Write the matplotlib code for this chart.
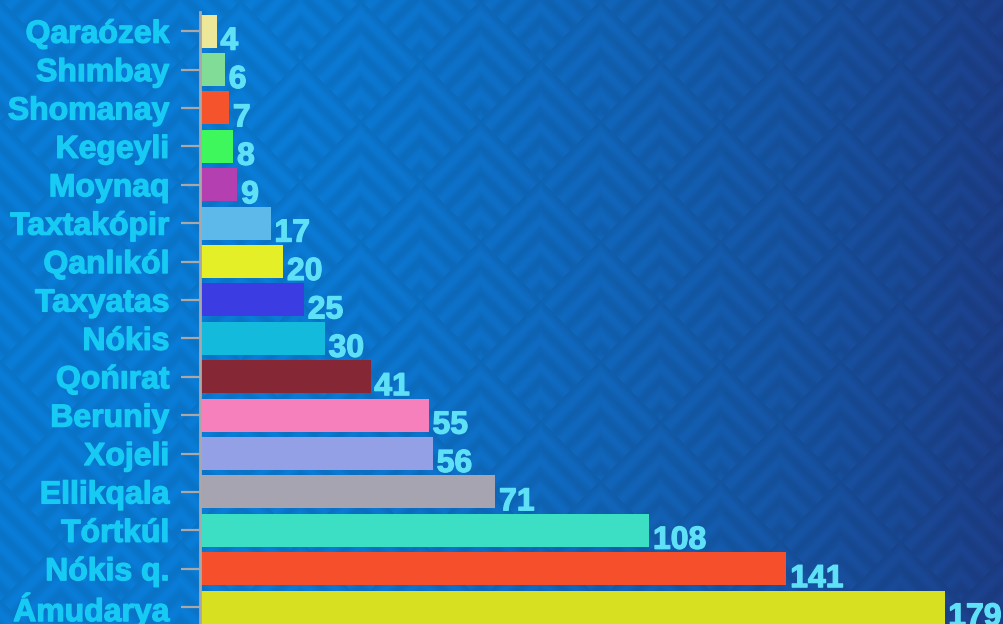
import numpy as np
import matplotlib.pyplot as plt
import matplotlib.patheffects as pe
from matplotlib.colors import to_rgb

districts = ['Qaraózek', 'Shımbay', 'Shomanay', 'Kegeyli', 'Moynaq', 'Taxtakópir',
             'Qanlıkól', 'Taxyatas', 'Nókis', 'Qońırat', 'Beruniy', 'Xojeli',
             'Ellikqala', 'Tórtkúl', 'Nókis q.', 'Ámudarya']
counts = [4, 6, 7, 8, 9, 17, 20, 25, 30, 41, 55, 56, 71, 108, 141, 179]
colors = ['#ece799', '#80dc96', '#f5532b', '#3ef75c', '#b43fb0', '#5cb9e9',
          '#e5ef27', '#3b3ce2', '#14badc', '#862735', '#f580bc', '#93a0e6',
          '#a5a4b0', '#3ddfc4', '#f5502b', '#d8e022']

W, H = 1004, 624
fig = plt.figure(figsize=(W / 100, H / 100), dpi=100)

# background: blue gradient with faint nested chevrons
yy, xx = np.mgrid[0:H, 0:W].astype(float)
t = np.clip((xx / W - 0.25) / 0.75, 0, 1) ** 1.3
c0 = np.array(to_rgb('#0a7dd8'))
c1 = np.array(to_rgb('#1d3f8a'))
bg = c0 * (1 - t[..., None]) + c1 * t[..., None]
a = ((xx + yy) / 120.0) % 1.0
b = ((yy - xx) / 120.0) % 1.0
m = np.minimum(a, b)
stripe = 0.5 + 0.5 * np.cos(2 * np.pi * 4.5 * m)
bg = bg * (1 - 0.08 * stripe[..., None])
bg_ax = fig.add_axes([0, 0, 1, 1], zorder=-1)
bg_ax.imshow(bg, aspect='auto', interpolation='bilinear')
bg_ax.axis('off')

label_col = '#16caf4'
value_col = '#5ee0f7'

ax = fig.add_axes([200 / W, 0, (W - 200) / W, (H - 12) / H])
ax.set_facecolor('none')
y = np.arange(len(districts))
ax.barh(y, counts, height=0.86, color=colors, zorder=2)

for yi, v in zip(y, counts):
    ax.text(v + 0.9, yi + 0.48, str(v), va='baseline', ha='left',
            fontsize=23, fontweight='bold', color=value_col,
            family='Liberation Sans', clip_on=False,
            path_effects=[pe.withStroke(linewidth=0.9, foreground=value_col)])

ax.set_xlim(0, 193.3)
ax.set_ylim(15.44, -0.5)
ax.set_yticks(y)
ax.set_yticklabels(districts, fontsize=23, fontweight='bold', color=label_col,
                   family='Liberation Sans')
for lab in ax.get_yticklabels():
    lab.set_path_effects([pe.withStroke(linewidth=0.9, foreground=label_col)])
ax.tick_params(axis='y', length=14, width=1.6, color='#a8a8a8', pad=8)
ax.set_xticks([])
for s in ['top', 'right', 'bottom']:
    ax.spines[s].set_visible(False)
ax.spines['left'].set_color('#a8a8a8')
ax.spines['left'].set_linewidth(2)

fig.savefig('out.png', dpi=100)
